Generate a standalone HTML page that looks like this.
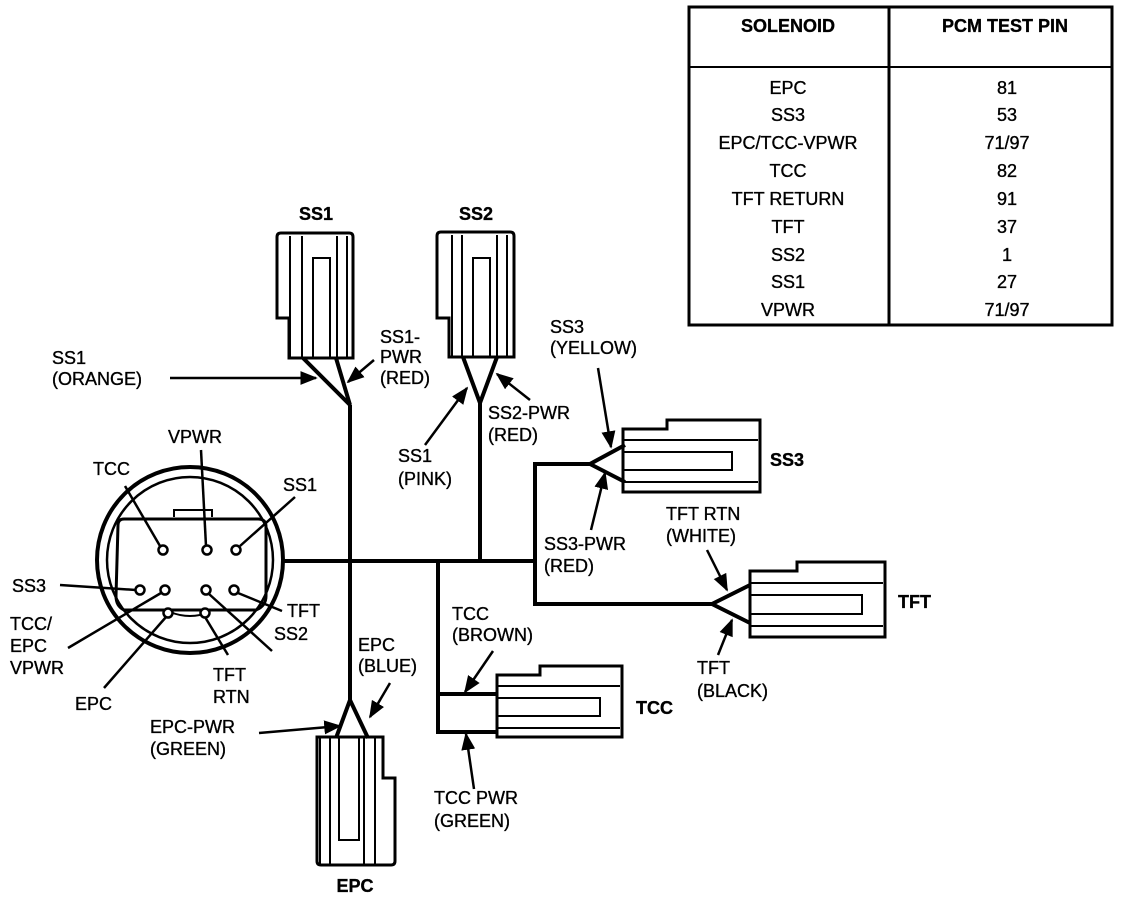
<!DOCTYPE html>
<html><head><meta charset="utf-8"><style>
html,body{margin:0;padding:0;background:#fff;}
svg{display:block;}
text{font-family:"Liberation Sans",sans-serif;font-size:18px;fill:#000;stroke:#000;stroke-width:0.35;}
.b{font-weight:bold;}
</style></head><body>
<svg width="1136" height="924" viewBox="0 0 1136 924" xmlns="http://www.w3.org/2000/svg">
<defs><marker id="a" viewBox="0 0 10 10" refX="9" refY="5" markerWidth="7" markerHeight="7" orient="auto"><path d="M0,1 L10,5 L0,9 z" fill="#000"/></marker></defs>
<g fill="none" stroke="#000">
<rect x="689" y="7" width="423" height="318" stroke-width="3"/>
<line x1="889" y1="7" x2="889" y2="325" stroke-width="3"/>
<line x1="689" y1="67" x2="1112" y2="67" stroke-width="2"/>

<path d="M289,358 L289,318 L277,318 L277,237 Q277,233 281,233 L349,233 Q353,233 353,237 L353,358 Z" stroke-width="3"/>
<line x1="290" y1="236" x2="290" y2="357" stroke-width="2"/>
<line x1="302" y1="236" x2="302" y2="357" stroke-width="2"/>
<line x1="337" y1="236" x2="337" y2="357" stroke-width="2"/>
<line x1="347" y1="236" x2="347" y2="357" stroke-width="2"/>
<path d="M313,357 L313,258 L330,258 L330,357" stroke-width="2"/>
<path d="M449,357 L449,318 L437,318 L437,236 Q437,232 441,232 L510,232 Q514,232 514,236 L514,357 Z" stroke-width="3"/>
<line x1="452" y1="235" x2="452" y2="356" stroke-width="2"/>
<line x1="462" y1="235" x2="462" y2="356" stroke-width="2"/>
<line x1="497" y1="235" x2="497" y2="356" stroke-width="2"/>
<line x1="507" y1="235" x2="507" y2="356" stroke-width="2"/>
<path d="M473,356 L473,258 L490,258 L490,356" stroke-width="2"/>
<path d="M317,737 L383,737 L383,778 L395,778 L395,861 Q395,865 391,865 L321,865 Q317,865 317,861 Z" stroke-width="3"/>
<line x1="320" y1="738" x2="320" y2="864" stroke-width="2"/>
<line x1="330" y1="738" x2="330" y2="864" stroke-width="2"/>
<line x1="364" y1="738" x2="364" y2="864" stroke-width="2"/>
<line x1="375" y1="738" x2="375" y2="864" stroke-width="2"/>
<path d="M339,738 L339,840 L359,840 L359,738" stroke-width="2"/>
<path d="M623,429 L667,429 L667,420 L760,420 L760,492 L623,492 Z" stroke-width="3"/>
<line x1="624" y1="440" x2="758" y2="440" stroke-width="2"/>
<line x1="624" y1="482" x2="758" y2="482" stroke-width="2"/>
<path d="M624,452 L732,452 L732,470 L624,470" stroke-width="2"/>
<path d="M750,571 L797,571 L797,562 L885,562 L885,637 L750,637 Z" stroke-width="3"/>
<line x1="751" y1="583" x2="883" y2="583" stroke-width="2"/>
<line x1="751" y1="626" x2="883" y2="626" stroke-width="2"/>
<path d="M751,595 L862,595 L862,614 L751,614" stroke-width="2"/>
<path d="M497,675 L540,675 L540,666 L622,666 L622,737 L497,737 Z" stroke-width="3"/>
<line x1="498" y1="686" x2="620" y2="686" stroke-width="2"/>
<line x1="498" y1="728" x2="620" y2="728" stroke-width="2"/>
<path d="M498,698 L600,698 L600,716 L498,716" stroke-width="2"/>

<g stroke-width="4">
<path d="M303,358 L350,405 L336,358"/>
<path d="M350,405 L350,700"/>
<path d="M463,357 L480,403 L497,357"/>
<path d="M480,403 L480,561"/>
<path d="M281,561 L535,561"/>
<path d="M590,464 L535,464 L535,604 L712,604"/>
<path d="M625,445 L590,464 L625,482"/>
<path d="M750,585 L712,604 L750,623"/>
<path d="M438,561 L438,732 L497,732 M438,694 L497,694"/>
<path d="M336,738 L350,700 L368,738"/>
</g>

<circle cx="190" cy="560" r="93" stroke-width="4"/>
<circle cx="190" cy="560" r="83" stroke-width="2.5"/>
<path d="M118,525 Q118,519 124,519 L258,519 Q266,519 266,527 L266,596 Q266,606 256,610 L124,610 Q116,606 116,596 Z" stroke-width="3"/>
<path d="M174,517 L174,510 L212,510 L212,517" stroke-width="2"/>
<path d="M170,612 Q190,620 210,612" stroke-width="2"/>
<g stroke-width="2.5" fill="#fff">
<circle cx="163" cy="550" r="4.5"/><circle cx="207" cy="550" r="4.5"/><circle cx="236" cy="550" r="4.5"/>
<circle cx="140" cy="590" r="4.5"/><circle cx="165" cy="590" r="4.5"/><circle cx="206" cy="590" r="4.5"/><circle cx="234" cy="590" r="4.5"/>
<circle cx="168" cy="613" r="4.5"/><circle cx="205" cy="613" r="4.5"/>
</g>
<g stroke-width="2.5">
<line x1="125" y1="486" x2="160" y2="546"/>
<line x1="201" y1="450" x2="206" y2="546"/>
<line x1="295" y1="497" x2="240" y2="546"/>
<line x1="60" y1="585" x2="136" y2="590"/>
<line x1="68" y1="648" x2="161" y2="593"/>
<line x1="104" y1="688" x2="166" y2="617"/>
<line x1="282" y1="611" x2="238" y2="593"/>
<line x1="272" y1="651" x2="209" y2="594"/>
<line x1="228" y1="655" x2="205" y2="617"/>
</g>
<g stroke-width="2.5" marker-end="url(#a)">
<line x1="170" y1="378" x2="316" y2="378"/>
<line x1="374" y1="360" x2="348" y2="382"/>
<line x1="425" y1="445" x2="467" y2="388"/>
<line x1="530" y1="400" x2="497" y2="374"/>
<line x1="598" y1="368" x2="611" y2="447"/>
<line x1="591" y1="530" x2="605" y2="473"/>
<line x1="707" y1="550" x2="727" y2="590"/>
<line x1="718" y1="655" x2="732" y2="620"/>
<line x1="493" y1="651" x2="465" y2="692"/>
<line x1="474" y1="789" x2="466" y2="734"/>
<line x1="259" y1="733" x2="340" y2="726"/>
<line x1="390" y1="683" x2="370" y2="717"/>
</g>
</g>

<g text-anchor="middle">
<text x="788" y="32" class="b" font-size="17">SOLENOID</text>
<text x="1005" y="32" class="b" font-size="17">PCM TEST PIN</text>
<text x="788" y="94">EPC</text><text x="1007" y="94">81</text>
<text x="788" y="121">SS3</text><text x="1007" y="121">53</text>
<text x="788" y="149">EPC/TCC-VPWR</text><text x="1007" y="149">71/97</text>
<text x="788" y="177">TCC</text><text x="1007" y="177">82</text>
<text x="788" y="205">TFT RETURN</text><text x="1007" y="205">91</text>
<text x="788" y="233">TFT</text><text x="1007" y="233">37</text>
<text x="788" y="261">SS2</text><text x="1007" y="261">1</text>
<text x="788" y="288">SS1</text><text x="1007" y="288">27</text>
<text x="788" y="316">VPWR</text><text x="1007" y="316">71/97</text>
<text x="316" y="220" class="b">SS1</text>
<text x="476" y="220" class="b">SS2</text>
<text x="355" y="892" class="b">EPC</text>
</g>
<text x="770" y="466" class="b">SS3</text>
<text x="898" y="608" class="b">TFT</text>
<text x="636" y="714" class="b">TCC</text>

<text x="52" y="364">SS1</text><text x="52" y="385">(ORANGE)</text>
<text x="380" y="343">SS1-</text><text x="380" y="363">PWR</text><text x="380" y="384">(RED)</text>
<text x="550" y="333">SS3</text><text x="550" y="354">(YELLOW)</text>
<text x="398" y="462">SS1</text><text x="398" y="485">(PINK)</text>
<text x="488" y="419">SS2-PWR</text><text x="488" y="441">(RED)</text>
<text x="544" y="550">SS3-PWR</text><text x="544" y="572">(RED)</text>
<text x="666" y="520">TFT RTN</text><text x="666" y="542">(WHITE)</text>
<text x="697" y="674">TFT</text><text x="697" y="697">(BLACK)</text>
<text x="452" y="620">TCC</text><text x="452" y="641">(BROWN)</text>
<text x="434" y="804">TCC PWR</text><text x="434" y="827">(GREEN)</text>
<text x="358" y="651">EPC</text><text x="358" y="672">(BLUE)</text>
<text x="150" y="733">EPC-PWR</text><text x="150" y="755">(GREEN)</text>
<text x="168" y="443">VPWR</text>
<text x="93" y="475">TCC</text>
<text x="283" y="491">SS1</text>
<text x="12" y="592">SS3</text>
<text x="10" y="630">TCC/</text><text x="10" y="652">EPC</text><text x="10" y="674">VPWR</text>
<text x="75" y="710">EPC</text>
<text x="287" y="617">TFT</text>
<text x="274" y="640">SS2</text>
<text x="213" y="681">TFT</text><text x="213" y="703">RTN</text>
</svg>
</body></html>
